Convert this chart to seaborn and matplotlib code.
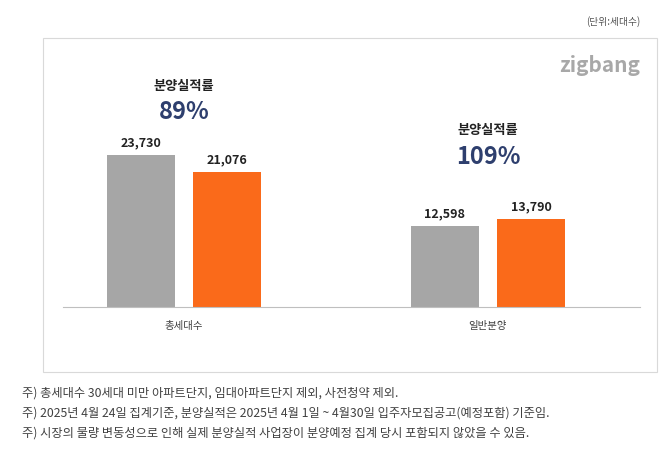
import matplotlib
matplotlib.use("Agg")
import matplotlib.pyplot as plt
from matplotlib import font_manager
import seaborn as sns
import pandas as pd
from matplotlib.patches import Rectangle

names = {f.name for f in font_manager.fontManager.ttflist}
fam = [n for n in ["Noto Sans CJK KR", "Noto Sans CJK JP", "Noto Sans CJK SC"] if n in names]
plt.rcParams["font.family"] = fam + ["DejaVu Sans"]

categories = ["총세대수", "일반분양"]
series = ["예정", "실적"]
planned = [23730, 12598]
actual = [21076, 13790]
rates = ["89%", "109%"]
notes = [
    "주) 총세대수 30세대 미만 아파트단지, 임대아파트단지 제외, 사전청약 제외.",
    "주) 2025년 4월 24일 집계기준, 분양실적은 2025년 4월 1일 ~ 4월30일 입주자모집공고(예정포함) 기준임.",
    "주) 시장의 물량 변동성으로 인해 실제 분양실적 사업장이 분양예정 집계 당시 포함되지 않았을 수 있음.",
]

df = pd.DataFrame({
    "cat": categories * 2,
    "series": [series[0]] * 2 + [series[1]] * 2,
    "val": planned + actual,
})

W, H = 670, 462
fig = plt.figure(figsize=(6.7, 4.62), dpi=100)
fig.patches.append(Rectangle((43 / W, 1 - 372 / H), 614 / W, 334 / H, transform=fig.transFigure,
                             fill=False, edgecolor="#d9d9d9", lw=0.8))
ax = fig.add_axes([63 / W, 1 - 307 / H, 577 / W, 247 / H])
sns.barplot(data=df, x="cat", y="val", hue="series", order=categories, hue_order=series,
            palette=["#a6a6a6", "#fa6a1a"], saturation=1, width=0.566, gap=0.21, ax=ax, legend=False)
ax.set_xlim(-0.398, 1.5)
ax.set_ylim(0, 23730 * 247 / 152)
for s in ["top", "right", "left"]:
    ax.spines[s].set_visible(False)
ax.spines["bottom"].set_color("#bfbfbf")
ax.set_yticks([])
ax.set_xlabel("")
ax.set_ylabel("")
ax.tick_params(axis="x", length=0, labelsize=7.5, colors="#404040", pad=10)

for c in ax.containers:
    for bar in c:
        h = bar.get_height()
        ax.text(bar.get_x() + bar.get_width() / 2, h + 900, f"{int(h):,}", ha="center", va="bottom",
                fontsize=9, fontweight="bold", color="#222222")

pct_off = [4800, 7800]
lab_off = [9700, 12700]
for i, r in enumerate(rates):
    top = max(planned[i], actual[i])
    ax.text(i, top + pct_off[i], r, ha="center", va="bottom", fontsize=17, fontweight="bold", color="#2e3f6e")
    ax.text(i, top + lab_off[i], "분양실적률", ha="center", va="bottom", fontsize=9.5, fontweight="bold", color="#222222")

fig.text(640 / W, 1 - 22 / H, "(단위:세대수)", ha="right", va="center", fontsize=7, color="#555555")
fig.text(640 / W, 1 - 66 / H, "zigbang", ha="right", va="center", fontsize=15, fontweight="bold", color="#a8a8a8")
for k, n in enumerate(notes):
    fig.text(22 / W, 1 - (393 + 20 * k) / H, n, ha="left", va="center", fontsize=8.8, color="#404040")

fig.savefig("out.png", dpi=100)
